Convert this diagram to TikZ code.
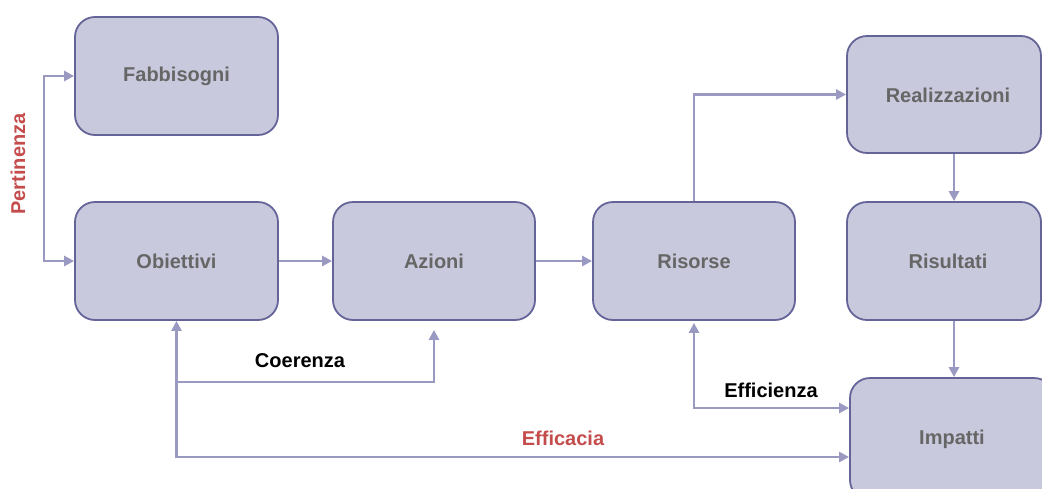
\documentclass[tikz,border=0pt]{standalone}
\usepackage{fontspec}
\setmainfont{Liberation Sans}
\usetikzlibrary{arrows.meta,calc}
\definecolor{boxfill}{RGB}{201,201,221}
\definecolor{boxline}{RGB}{100,100,152}
\definecolor{linkcol}{RGB}{153,153,194}
\definecolor{boxtext}{RGB}{102,102,102}
\definecolor{labred}{RGB}{196,76,76}
\tikzset{
  stage/.style={draw=boxline, line width=1.8pt, fill=boxfill, rounded corners=20pt,
    text=boxtext, font=\fontsize{20}{24}\selectfont\bfseries, inner sep=0pt},
  link/.style={draw=linkcol, line width=2.6pt,
    arrows={-Triangle[length=10pt,width=10pt]}},
  link2/.style={link, arrows={Triangle[length=10pt,width=10pt]-Triangle[length=10pt,width=10pt]}},
  lab/.style={font=\fontsize{20}{24}\selectfont\bfseries, inner sep=0pt},
}
\begin{document}
\begin{tikzpicture}[x=1pt,y=-1pt]
\useasboundingbox (0,0) rectangle (1042,488);
\clip (0,0) rectangle (1042,488);

% stages of the evaluation chain
\node[stage, minimum width=203pt, minimum height=118pt] (fab) at (176.5,76) {Fabbisogni};
\node[stage, minimum width=203pt, minimum height=118pt] (obj) at (176.5,261) {Obiettivi};
\node[stage, minimum width=202pt, minimum height=118pt] (az) at (434,261) {Azioni};
\node[stage, minimum width=202pt, minimum height=118pt] (ris) at (694,261) {Risorse};
\node[stage, minimum width=194pt, minimum height=117pt] (real) at (944,94.5) {};
\node[text=boxtext, font=\fontsize{20}{24}\selectfont\bfseries] (realt) at (948,95) {Realizzazioni};
\node[stage, minimum width=194pt, minimum height=118pt] (risu) at (944,261) {};
\node[text=boxtext, font=\fontsize{20}{24}\selectfont\bfseries] (risut) at (948,261) {Risultati};
\node[stage, minimum width=204pt, minimum height=122pt] (imp) at (952,439) {Impatti};

% routing guides
\coordinate (px) at (44,0);
\coordinate (vx) at (954,0);
\coordinate (cy) at (0,382);
\coordinate (ey) at (0,457);
\coordinate (fy) at (0,408);

% Pertinenza
\draw[link2] (fab.west) -- (fab.west -| px) -- (obj.west -| px) -- (obj.west);
% main flow
\draw[link] (obj) -- (az);
\draw[link] (az) -- (ris);
\draw[link] (ris.north) |- (real.west);
\draw[link] (real.south -| vx) -- (risu.north -| vx);
\draw[link] (risu.south -| vx) -- (imp.north -| vx);
% Coerenza
\draw[link2, shorten >=9pt] (obj.south) -- (obj.south |- cy) -| (az.south);
% Efficacia
\draw[link] (obj.south |- cy) -- (obj.south |- ey) -- (imp.west |- ey);
% Efficienza
\draw[link2, shorten <=2pt] (ris.south) -- (ris.south |- fy) -- (imp.west |- fy);

% criteria labels
\node[lab, text=labred, rotate=90] (pert) at (18,164) {Pertinenza};
\node[lab] (coer) at (300,361) {Coerenza};
\node[lab] (effz) at (771,390) {Efficienza};
\node[lab, text=labred] (effc) at (563,438) {Efficacia};
\end{tikzpicture}
\end{document}
